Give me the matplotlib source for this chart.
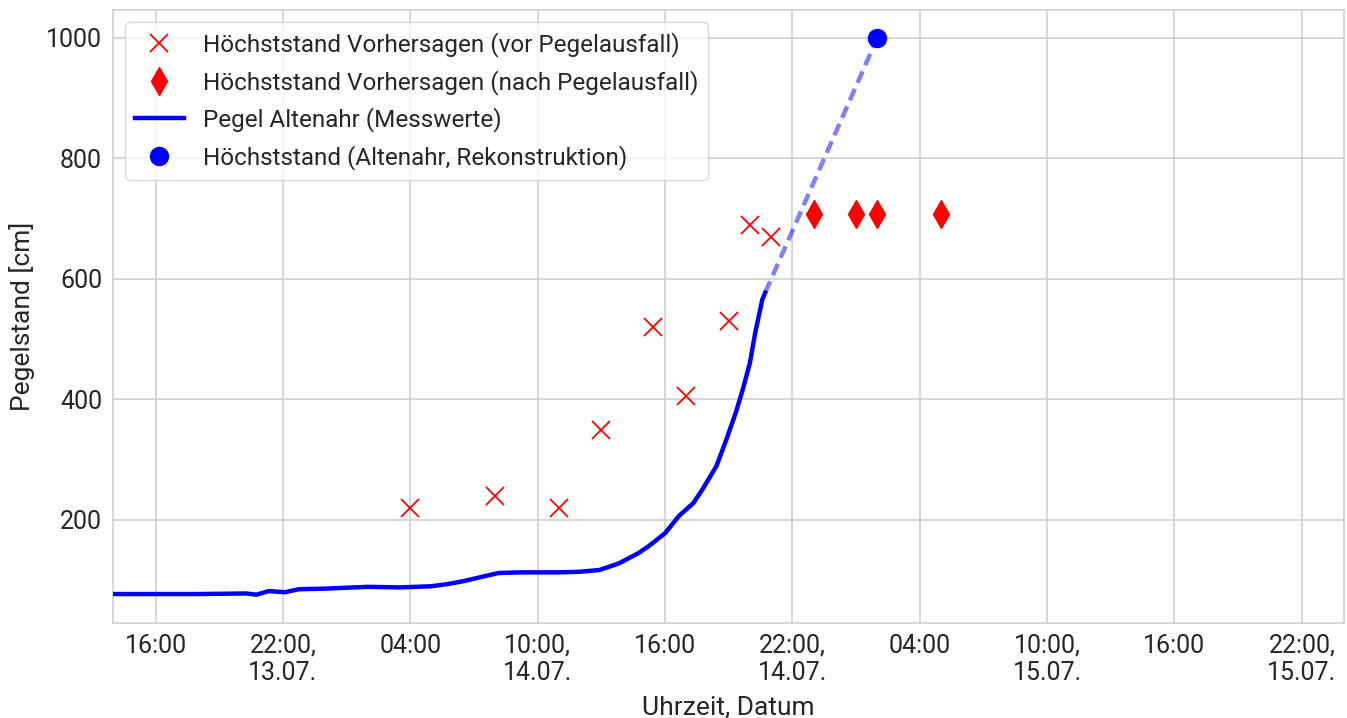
import matplotlib
matplotlib.use("Agg")
import matplotlib.pyplot as plt
import pandas as pd

# Pegel Altenahr, Messwerte [cm]
mess_zeit = ["2021-07-13 14:00", "2021-07-13 16:00", "2021-07-13 18:00", "2021-07-13 20:15",
             "2021-07-13 20:45", "2021-07-13 21:20", "2021-07-13 22:05", "2021-07-13 22:45",
             "2021-07-14 00:00", "2021-07-14 02:00", "2021-07-14 03:30", "2021-07-14 05:00",
             "2021-07-14 05:50", "2021-07-14 06:35", "2021-07-14 07:25", "2021-07-14 08:10",
             "2021-07-14 09:15", "2021-07-14 11:00", "2021-07-14 12:00", "2021-07-14 12:55",
             "2021-07-14 13:50", "2021-07-14 14:45", "2021-07-14 15:15", "2021-07-14 16:00",
             "2021-07-14 16:40", "2021-07-14 17:20", "2021-07-14 17:45", "2021-07-14 18:25",
             "2021-07-14 18:50", "2021-07-14 19:20", "2021-07-14 19:40", "2021-07-14 20:00",
             "2021-07-14 20:15", "2021-07-14 20:35", "2021-07-14 20:43"]
mess_wert = [77, 77, 77, 78, 76, 82, 80, 85, 86, 89, 88, 90,
             94, 99, 106, 112, 113, 113, 114, 117,
             128, 145, 157, 178, 207, 228, 250, 289,
             328, 378, 417, 461, 511, 566, 577]

# Hoechststand-Vorhersagen vor dem Pegelausfall
vor_zeit = ["2021-07-14 04:00", "2021-07-14 08:00", "2021-07-14 11:00", "2021-07-14 13:00",
            "2021-07-14 15:25", "2021-07-14 17:00", "2021-07-14 19:00", "2021-07-14 20:00",
            "2021-07-14 21:00"]
vor_wert = [220, 240, 220, 350, 520, 405, 530, 690, 670]

# Hoechststand-Vorhersagen nach dem Pegelausfall
nach_zeit = ["2021-07-14 23:00", "2021-07-15 01:00", "2021-07-15 02:00", "2021-07-15 05:00"]
nach_wert = [707, 707, 707, 707]

# rekonstruierter Hoechststand
peak_zeit = ["2021-07-15 02:00"]
peak_wert = [1000]

tick_zeit = ["2021-07-13 16:00", "2021-07-13 22:00", "2021-07-14 04:00", "2021-07-14 10:00",
             "2021-07-14 16:00", "2021-07-14 22:00", "2021-07-15 04:00", "2021-07-15 10:00",
             "2021-07-15 16:00", "2021-07-15 22:00"]
tick_text = ["16:00", "22:00,\n13.07.", "04:00", "10:00,\n14.07.", "16:00",
             "22:00,\n14.07.", "04:00", "10:00,\n15.07.", "16:00", "22:00,\n15.07."]

plt.rcParams["font.family"] = ["Roboto", "DejaVu Sans"]
plt.rcParams["text.color"] = "#262626"
plt.rcParams["axes.labelcolor"] = "#262626"
plt.rcParams["xtick.color"] = "#262626"
plt.rcParams["ytick.color"] = "#262626"

fig, ax = plt.subplots(figsize=(13.47, 7.18), dpi=100)
fig.subplots_adjust(left=0.084, right=0.998, bottom=0.133, top=0.986)

t_mess = pd.to_datetime(mess_zeit)
t_vor = pd.to_datetime(vor_zeit)
t_nach = pd.to_datetime(nach_zeit)
t_peak = pd.to_datetime(peak_zeit)

ax.plot(t_vor, vor_wert, "x", color="red", ms=13, mew=1.3,
        label="Höchststand Vorhersagen (vor Pegelausfall)", zorder=3)
ax.plot(t_nach, nach_wert, "d", color="red", ms=14,
        label="Höchststand Vorhersagen (nach Pegelausfall)", zorder=3)
ax.plot(t_mess, mess_wert, "-", color="blue", lw=3.2,
        label="Pegel Altenahr (Messwerte)", zorder=3)
ax.plot([t_mess[-1], t_peak[0]], [mess_wert[-1], peak_wert[0]], "--", color="blue",
        alpha=0.5, lw=3.2, dashes=(2.8, 1.5), zorder=2)
ax.plot(t_peak, peak_wert, "o", color="blue", ms=13,
        label="Höchststand (Altenahr, Rekonstruktion)", zorder=4)

ax.set_xlim(pd.Timestamp("2021-07-13 14:00"), pd.Timestamp("2021-07-16 00:00"))
ax.set_ylim(29.8, 1046)
ax.set_xticks(pd.to_datetime(tick_zeit))
ax.set_xticklabels(tick_text)
ax.set_yticks([200, 400, 600, 800, 1000])

ax.grid(True, color="#d0d0d0", lw=1.2)
ax.set_axisbelow(True)
for s in ax.spines.values():
    s.set_color("#d0d0d0")
    s.set_linewidth(1.2)
ax.tick_params(length=0, labelsize=18, pad=8)

ax.set_xlabel("Uhrzeit, Datum", fontsize=19, labelpad=7)
ax.set_ylabel("Pegelstand [cm]", fontsize=19, labelpad=8)

leg = ax.legend(loc="upper left", fontsize=17.5, frameon=True, labelspacing=0.53)
leg.get_frame().set_edgecolor("#d0d0d0")

fig.savefig("out.png", dpi=100)
